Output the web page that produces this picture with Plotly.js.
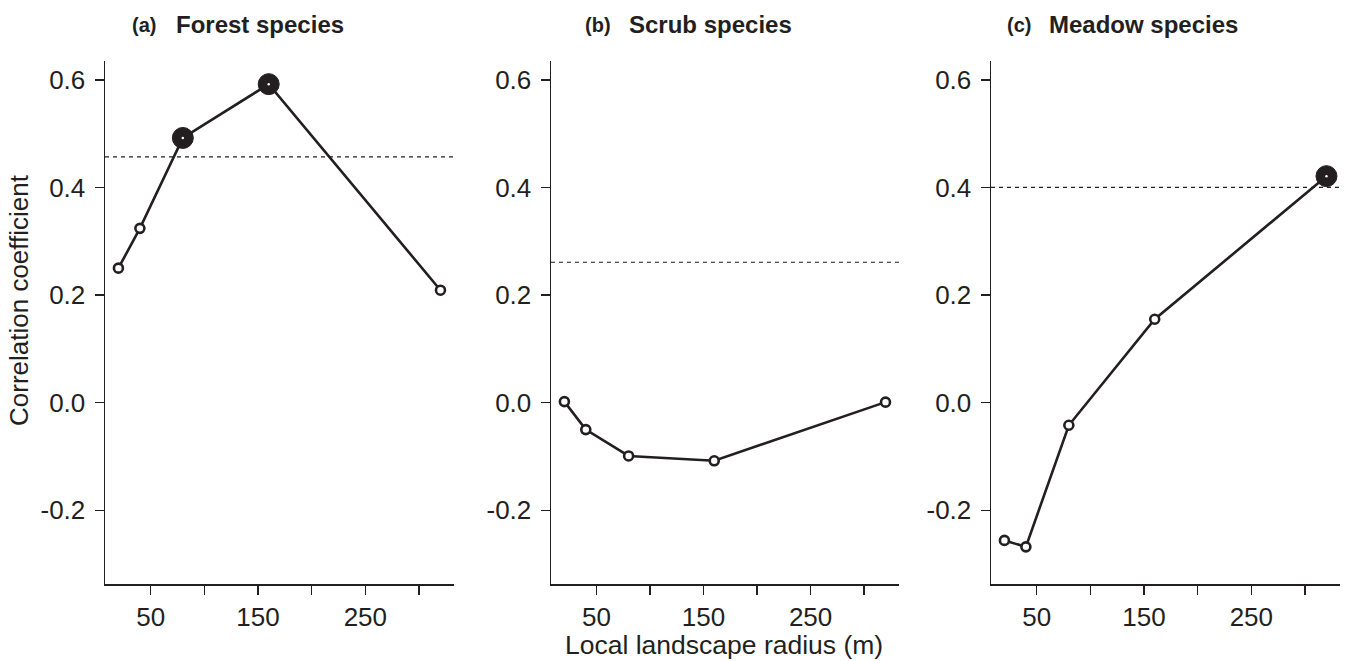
<!DOCTYPE html>
<html>
<head>
<meta charset="utf-8">
<script src="https://cdn.plot.ly/plotly-3.0.1.min.js"></script>
<style>html,body{margin:0;padding:0;background:#fff;}#chart{width:1347px;height:661px;}</style>
</head>
<body>
<div id="chart"></div>
<script>
// ---- data ----
const radius = [20, 40, 80, 160, 320];
const forest = [0.250, 0.324, 0.492, 0.592, 0.209];
const scrub = [0.002, -0.050, -0.099, -0.108, 0.001];
const meadow = [-0.256, -0.268, -0.042, 0.155, 0.421];
const forestSig = [false, false, true, true, false];
const scrubSig = [false, false, false, false, false];
const meadowSig = [false, false, false, false, true];
const thresholds = [0.457, 0.261, 0.400];
const panelLetters = ["(a)", "(b)", "(c)"];
const panelNames = ["Forest species", "Scrub species", "Meadow species"];
const xTickVals = [50, 100, 150, 200, 250, 300];
const xTickText = ["50", "", "150", "", "250", ""];
const yTickVals = [-0.2, 0.0, 0.2, 0.4, 0.6];
const yTickText = ["-0.2", "0.0", "0.2", "0.4", "0.6"];
const xTitle = "Local landscape radius (m)";
const yTitle = "Correlation coefficient";

// ---- style ----
const W = 1347, H = 661;
const ink = '#231f20';
const FONT = 'Liberation Sans, Arial, Helvetica, sans-serif';
const plotTop = 61, plotBottom = 584;
const panelsPx = [[105, 454], [551, 899], [991, 1340]];
const titleLetterRight = [158, 613, 1033];
const titleNameLeft = [174, 627, 1047];

const series = [forest, scrub, meadow];
const sigs = [forestSig, scrubSig, meadowSig];

const traces = [];
const layout = {
  width: W, height: H,
  margin: {l: 0, r: 0, t: plotTop, b: H - plotBottom},
  paper_bgcolor: '#fff', plot_bgcolor: '#fff',
  showlegend: false,
  font: {family: FONT, color: ink, size: 26},
  shapes: [], annotations: []
};
const py = p => (plotBottom - p) / (plotBottom - plotTop);

series.forEach((vals, i) => {
  const n = i === 0 ? '' : String(i + 1);
  const xa = 'x' + n, ya = 'y' + n;
  const sig = sigs[i];
  traces.push({
    type: 'scatter', mode: 'lines+markers', xaxis: xa, yaxis: ya,
    x: radius, y: vals,
    line: {color: ink, width: 2.6},
    marker: {
      size: sig.map(s => s ? 21 : 9),
      color: sig.map(s => s ? ink : '#fff'),
      opacity: 1,
      line: {color: ink, width: sig.map(s => s ? 1 : 2.6)}
    },
    cliponaxis: false, hoverinfo: 'skip'
  });
  traces.push({
    type: 'scatter', mode: 'markers', xaxis: xa, yaxis: ya,
    x: radius.filter((r, k) => sig[k]), y: vals.filter((v, k) => sig[k]),
    marker: {size: 2.5, color: '#fff', opacity: 1},
    cliponaxis: false, hoverinfo: 'skip'
  });
  const axCommon = {
    showline: true, linecolor: ink, linewidth: 1.5,
    ticks: 'outside', ticklen: 9, tickwidth: 1.5, tickcolor: ink,
    showgrid: false, zeroline: false,
    tickfont: {family: FONT, size: 26, color: ink}, fixedrange: true
  };
  layout['xaxis' + n] = Object.assign({}, axCommon, {
    domain: [panelsPx[i][0] / W, panelsPx[i][1] / W],
    range: [7.5, 332.6], anchor: ya,
    tickmode: 'array', tickvals: xTickVals, ticktext: xTickText
  });
  layout['yaxis' + n] = Object.assign({}, axCommon, {
    domain: [0, 1], range: [-0.337, 0.635], anchor: xa,
    tickmode: 'array', tickvals: yTickVals, ticktext: yTickText,
    ticklabelstandoff: 4
  });
  layout.shapes.push({
    type: 'line', xref: xa + ' domain', yref: ya,
    x0: 0, x1: 1, y0: thresholds[i], y1: thresholds[i],
    line: {color: ink, width: 1.2, dash: '4px,4px'}, layer: 'below'
  });
  layout.annotations.push({
    xref: 'paper', yref: 'paper', x: titleLetterRight[i] / W, y: py(25),
    xanchor: 'right', yanchor: 'middle', showarrow: false,
    text: '<b>' + panelLetters[i] + '</b>', font: {family: FONT, size: 20, color: ink}
  });
  layout.annotations.push({
    xref: 'paper', yref: 'paper', x: titleNameLeft[i] / W, y: py(25),
    xanchor: 'left', yanchor: 'middle', showarrow: false,
    text: '<b>' + panelNames[i] + '</b>', font: {family: FONT, size: 24, color: ink}
  });
});

layout.annotations.push({
  xref: 'paper', yref: 'paper', x: 723.5 / W, y: py(661),
  xanchor: 'center', yanchor: 'bottom', showarrow: false, borderpad: 0,
  text: xTitle, font: {family: FONT, size: 26.5, color: ink}
});
layout.annotations.push({
  xref: 'paper', yref: 'paper', x: 19 / W, y: py(300),
  xanchor: 'center', yanchor: 'middle', showarrow: false, textangle: -90,
  text: yTitle, font: {family: FONT, size: 26, color: ink}
});

Plotly.newPlot('chart', traces, layout, {displayModeBar: false, staticPlot: true});
</script>
</body>
</html>
